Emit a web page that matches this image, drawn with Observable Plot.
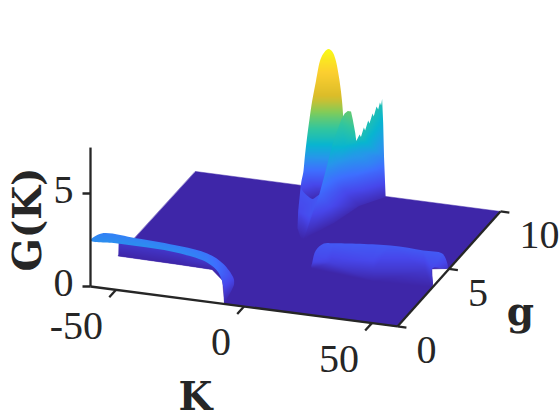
<!DOCTYPE html>
<html><head><meta charset="utf-8">
<script src="https://cdn.jsdelivr.net/npm/d3@7"></script>
<script src="https://cdn.jsdelivr.net/npm/@observablehq/plot@0.6"></script>
<style>html,body{margin:0;padding:0;background:#fff;overflow:hidden}svg{display:block}</style>
</head><body><div id="chart"></div>
<script>
const parula=["#3e26a8","#4747eb","#3e6fff","#2796eb","#08b5d0","#31c69f","#81cc59","#dcbd29","#fccf30","#f9fb15"];
const kTicks=[-50,0,50], gTicks=[0,5,10], zTicks=[0,5];
const kLabels=["-50","0","50"], gLabels=["0","5","10"], zLabels=["0","5"];
// Floor of the surface (G = 0)
const floorK=[-60,60,60,54,60,60,-7.6,-15.7,-22.9,-36.2,-60];
const floorG_g=[10,10,5.04,4.83,3.39,0,0,1.8,2.55,2.6,2.65];
// patches: outline points first, then interior points
const slopeK=[-60,-36.2,-22.9,-17.3,-24.5,-36.7,-50,-61.5];
const slopeg=[2.65,2.6,2.55,1.96,2.49,2.92,3.05,3.05];
const slopeG=[0,0,0,.2,.5,.5,.5,.5];
const stripK=[-60,-49.4,-37.7,-24.8,-14.3,-10,-8,-7.6,-7.8,-7.2,-7.6,-12,-18.4,-28.8,-46.4,-60];
const stripg=[0,0,0,0,0,0,0,0,.3,.83,.84,.95,1,1,1.03,1.05];
const stripG=[2.47,2.5,2.49,2.4,2.1,1.65,.88,0,.1,.6,.9,1.5,1.9,2.1,2.2,2.2];
const tubeK=[14.7,13.9,15.4,19,39.7,52.8,60.4,62,62.2,59.3,59.7,37.5,11.7,36.1,37,55.2,20.5,18.6];
const tubeg=[2.96,3.49,3.9,3.95,4.35,4.3,4.25,4.32,4.3,3.57,3.38,3.26,3.64,3.6,3.39,3.92,3.29,3.27];
const tubeG=[.8,1.1,1.25,1.3,1.3,1.3,1.3,.8,.5,.9,0,0,0,1,.5,.5,.7,1];
const wedgeK=[-11.3,-6,-4.4,-1.5,.9,-.2,-6.6,.9,-1.5];
const wedgeg=[8.22,6.68,6.22,5.83,5.82,7.5,8.19,6.11,6.15];
const wedgeG=[1.2,.9,.3,0,.1,1.3,1.3,1.1,.5];
const peakK=[-4.8,-5.9,-6.8,-6.2,-5.9,-7.3,-7.8,-9.9,-11.8,-12.2,-10.5,-9.2,-7,.1,3.8,4.8,5.7,4.6,4.6,2.1,-1.6,-3.1];
const peakg=[9.31,9.19,9.03,8.44,8,8.1,7.97,8.28,8.61,8.5,8.67,8.84,9.07,8.71,9.04,8.7,8.35,8.43,8.3,8.68,9.18,9.27];
const peakG=[8,7.9,7.6,6.8,6,5,4,2.8,1.76,.9,.4,.15,.3,.5,1.76,2.8,4,5,6,6.8,7.6,7.9];
const ridgeK=[-.4,.2,-.2,1.7,2.1,3,4.5,5.2,7,9.3,9.6,9.6,10.9,8.9,10.3,8.2,9.6,7.5,8.9,6.7,8.2,6.6,8,6.9,11,15.1,16.2,9.7,5.7,7.8,12,13.9,6.7,4.5,3.9,11.8,5.5,3.1];
const ridgeg=[5.86,7.2,7.9,8.1,8.86,8.95,8.88,9.02,8.74,8.42,8.45,8.77,8.58,9.35,9.13,9.94,9.72,10.53,10.3,11.11,10.9,11.46,11.23,11.6,10.7,9.78,9.66,8.7,7.26,8.89,9.1,9.58,8.77,8.56,7.23,9.13,8.29,8.43];
const ridgeG=[0,1.6,2.4,3.76,4.64,4.9,5.1,5,4.8,4.3,3.84,4,4,4,4,4,4,4,4,4,4,4,4,4.1,3.4,2.2,.2,.2,.1,3,2.24,1.6,1.6,1,1,.5,3.6,2.4];

// View of the 3-D axes box
const px=(K,g)=>{const X=K+60;return 90+2.558*X-.00167*X*g+10.5*g;};
const py=(K,g,G)=>286+.333*(K+60)-11.5*g-18.6*G;
const pts=(K,g,G)=>K.map((k,i)=>({u:px(k,g[i]),v:py(k,g[i],G[i]),G:G[i]}));
let clipId=0;
function patch(K,g,G,nOutline,smooth){
  const data=pts(K,g,G), outline=data.slice(0,nOutline);
  const path=smooth?d3.line().curve(d3.curveCatmullRomClosed.alpha(.5)):d3.line().curve(d3.curveLinearClosed);
  return Plot.raster(data,{x:"u",y:"v",fill:"G",interpolate:"barycentric",
    render(i,s,v,d,c,next){
      const el=next(i,s,v,d,c), id="patch-clip-"+(++clipId);
      const NS="http://www.w3.org/2000/svg";
      const cp=document.createElementNS(NS,"clipPath"); cp.setAttribute("id",id);
      const p=document.createElementNS(NS,"path");
      p.setAttribute("d",path(outline.map(o=>[s.x(o.u),s.y(o.v)])));
      cp.appendChild(p); el.appendChild(cp); el.setAttribute("clip-path",`url(#${id})`);
      return el;
    }});
}
const ink="#262626", serif="'Liberation Serif',serif", boldSerif="'DejaVu Serif',serif";
const seg=(a,b)=>({x1:px(a[0],a[1]),y1:py(a[0],a[1],a[2]),x2:px(b[0],b[1]),y2:py(b[0],b[1],b[2])});
const axes=[seg([-60,0,0],[-60,0,7.47]),seg([-60,0,0],[60,0,0]),seg([60,0,0],[60,10,0])];
const ticks=[...kTicks.map(k=>seg([k,0,0],[k,-.65,0])),
  ...gTicks.map(g=>seg([60,g,0],[63.5,g,0])),
  ...zTicks.map(z=>seg([-60,0,z],[-62.8,-.081,z]))];
const kText=kTicks.map((k,i)=>({x:px(k,0),y:py(k,0,0),t:kLabels[i]}));
const gText=gTicks.map((g,i)=>({x:px(60,g),y:py(60,g,0),t:gLabels[i]}));
const zText=zTicks.map((z,i)=>({x:px(-60,0),y:py(-60,0,z),t:zLabels[i]}));
const floor=floorK.map((k,i)=>({u:px(k,floorG_g[i]),v:py(k,floorG_g[i],0)}));
const tickFont={fontFamily:serif,fontSize:40,fill:ink,lineAnchor:"middle"};
const labelFont={fontFamily:boldSerif,fontSize:39,fontWeight:"bold",fill:ink,lineAnchor:"middle"};

const chart=Plot.plot({
  width:560,height:420,margin:0,
  x:{domain:[0,560],axis:null},
  y:{domain:[420,0],axis:null},
  color:{domain:[0,8],clamp:true,interpolate:d3.piecewise(d3.interpolateRgb,parula)},
  marks:[
    Plot.line(floor,{x:"u",y:"v",fill:parula[0],stroke:parula[0],strokeWidth:.5,curve:"linear-closed"}),
    patch(slopeK,slopeg,slopeG,8,false),
    patch(stripK,stripg,stripG,16,true),
    patch(tubeK,tubeg,tubeG,13,true),
    patch(wedgeK,wedgeg,wedgeG,7,false),
    patch(peakK,peakg,peakG,22,true),
    patch(ridgeK,ridgeg,ridgeG,29,false),
    Plot.link(axes,{x1:"x1",y1:"y1",x2:"x2",y2:"y2",stroke:ink,strokeWidth:2.3}),
    Plot.link(ticks,{x1:"x1",y1:"y1",x2:"x2",y2:"y2",stroke:ink,strokeWidth:2.3}),
    Plot.text(kText,{x:"x",y:"y",text:"t",dx:-13,dy:36,...tickFont,textAnchor:"end"}),
    Plot.text(gText,{x:"x",y:"y",text:"t",dx:19,dy:24,...tickFont,textAnchor:"start"}),
    Plot.text(zText,{x:"x",y:"y",text:"t",dx:-27,dy:-3.5,...tickFont,textAnchor:"middle"}),
    Plot.text([{x:28,y:219}],{x:"x",y:"y",text:()=>"G(K)",rotate:-90,...labelFont,textAnchor:"middle"}),
    Plot.text([{x:195,y:397}],{x:"x",y:"y",text:()=>"K",...labelFont,textAnchor:"middle"}),
    Plot.text([{x:520,y:312}],{x:"x",y:"y",text:()=>"g",...labelFont,textAnchor:"middle"})
  ]
});
document.getElementById("chart").appendChild(chart);
</script></body></html>
